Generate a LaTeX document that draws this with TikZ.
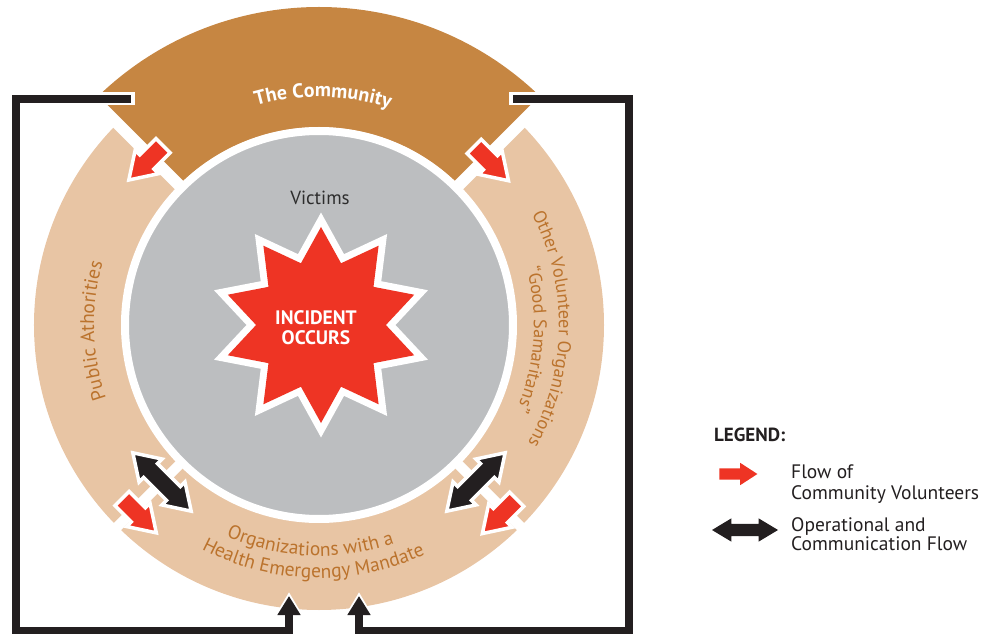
\documentclass[tikz,border=0pt]{standalone}
\usepackage{fontspec}
\setmainfont{PT Sans}
\usetikzlibrary{shapes.geometric,shapes.arrows,decorations.text,arrows.meta}
\definecolor{brownC}{RGB}{198,134,66}
\definecolor{beigeC}{RGB}{232,197,164}
\definecolor{grayC}{RGB}{188,190,192}
\definecolor{redC}{RGB}{238,52,36}
\definecolor{darkC}{RGB}{35,31,32}
\definecolor{textC}{RGB}{187,115,45}
\definecolor{victimC}{RGB}{45,45,45}
\newcommand\ringfont{\fontsize{19.5}{22}\selectfont\color{textC}}
\newcommand\sidefont{\fontsize{18.3}{22}\selectfont\color{textC}}
\newcommand\commfont{\fontsize{20}{22}\selectfont\bfseries\color{white}}
\begin{document}
\begin{tikzpicture}[x=1pt,y=1pt,
  ringtext/.style={decorate, decoration={text along path, text align=center, text={#1}}},
  gapline/.style={white, line width=#1},
  redarrow/.style={single arrow, fill=redC, draw=white, line width=3.5pt,
    minimum height=48.5pt, minimum width=29.5pt, single arrow head extend=6.5pt,
    single arrow tip angle=66, single arrow head indent=0pt, inner xsep=0pt, inner ysep=8.25pt},
  blackarrow/.style={double arrow, fill=darkC, draw=white, line width=3.5pt,
    minimum height=82.5pt, minimum width=29pt, double arrow head extend=6.5pt,
    double arrow tip angle=66, double arrow head indent=0pt, inner xsep=0pt, inner ysep=8pt},
  legred/.style={single arrow, fill=redC, minimum height=38pt, minimum width=22pt,
    single arrow head extend=5.5pt, single arrow tip angle=66, single arrow head indent=0pt,
    inner xsep=0pt, inner ysep=5.5pt},
  legblack/.style={double arrow, fill=darkC, minimum height=66pt, minimum width=23pt,
    double arrow head extend=5.5pt, double arrow tip angle=62, double arrow head indent=0pt,
    inner xsep=0pt, inner ysep=6pt},
  legtext/.style={anchor=base west, inner sep=0pt, font=\fontsize{19.5}{21}\selectfont, text=darkC},
  outline/.style={white, line width=13pt},
  conn/.style={darkC, line width=8pt}
]
\useasboundingbox (-319,-309) rectangle (674,325);
% ring
\fill[beigeC] (0,0) circle[radius=285];
\fill[brownC] (45:198) arc[start angle=45,end angle=135,radius=198] -- (135:318)
  arc[start angle=135,end angle=45,radius=318] -- cycle;
\foreach \a in {45,135} \draw[gapline=12pt] (\a:185) -- (\a:330);
\foreach \a in {225,315} \draw[gapline=10pt] (\a:185) -- (\a:295);
\node[circle, fill=grayC, draw=white, line width=8pt, minimum size=388pt, inner sep=0pt] (core) at (0,0) {};
% star
\node[star, star points=10, star point ratio=1.51, minimum size=196pt, inner sep=0pt,
  fill=redC, preaction={draw=white, line width=14pt}] (incident) at (2,0) {};
\node[font=\fontsize{19.5}{20}\selectfont\bfseries, text=white, align=center, inner sep=0pt] (incidenttext) at (-3,-3) {INCIDENT\\OCCURS};
\node[anchor=base, inner sep=0pt, font=\fontsize{19}{21}\selectfont, text=victimC] (victims) at (1,120) {Victims};
% ring texts
\path[ringtext={|\commfont|The Community}] (134:228) arc[start angle=134,end angle=44,radius=228];
\path[ringtext={|\ringfont|Public Athorities}] (221.5:225) arc[start angle=221.5,end angle=141.5,radius=225];
\path[ringtext={|\sidefont|Other Volunteer Organizations}] (44:240) arc[start angle=44,end angle=-46,radius=240];
\path[ringtext={|\sidefont|“Good Samaritans”}] (41:215) arc[start angle=41,end angle=-49,radius=215];
\path[ringtext={|\ringfont|Organizations with a}] (217.7:231) arc[start angle=217.7,end angle=317.7,radius=231];
\path[ringtext={|\ringfont|Health Emergengy Mandate}] (218.6:253) arc[start angle=218.6,end angle=318.6,radius=253];
% flow arrows
\node[redarrow, rotate=225] (tlflow) at (135:237) {};
\node[redarrow, rotate=-45] (trflow) at (45:236) {};
\node[redarrow, rotate=-45] (blflow) at (225:262) {};
\node[redarrow, rotate=225] (brflow) at (315:263) {};
\node[blackarrow, rotate=-45] (blop) at (225:222) {};
\node[blackarrow, rotate=45] (brop) at (315:222) {};
% brackets
\coordinate (lw0) at (-184,226);
\coordinate (l0) at (-188,226);
\coordinate (l1) at (-303,226);
\coordinate (l2) at (-303,-305.5);
\coordinate (l3) at (-30,-305.5);
\coordinate (ltw) at (-30,-267);
\coordinate (lt) at (-30,-271);
\coordinate (rw0) at (190,226);
\coordinate (r0) at (194,226);
\coordinate (r1) at (310,226);
\coordinate (r2) at (310,-305.5);
\coordinate (r3) at (40,-305.5);
\coordinate (rtw) at (40,-267);
\coordinate (rt) at (40,-271);
\draw[outline, -{Triangle[width=30pt,length=27pt]}] (lw0) -- (l1) -- (l2) -- (l3) -- (ltw);
\draw[outline, -{Triangle[width=30pt,length=27pt]}] (rw0) -- (r1) -- (r2) -- (r3) -- (rtw);
\draw[conn, -{Triangle[width=22pt,length=19pt]}] (l0) -- (l1) -- (l2) -- (l3) -- (lt);
\draw[conn, -{Triangle[width=22pt,length=19pt]}] (r0) -- (r1) -- (r2) -- (r3) -- (rt);
% legend
\node[anchor=base west, inner sep=0pt, font=\fontsize{19}{20}\selectfont\bfseries, text=darkC] (legtitle) at (395,-116.7) {LEGEND:};
\node[legred] (legflow) at (415,-149) {};
\node[legtext] (leg1a) at (472,-153) {Flow of};
\node[legtext] (leg1b) at (472,-174) {Community Volunteers};
\node[legblack] (legop) at (426,-205) {};
\node[legtext] (leg2a) at (472,-206) {Operational and};
\node[legtext] (leg2b) at (472,-225) {Communication Flow};
\end{tikzpicture}
\end{document}
